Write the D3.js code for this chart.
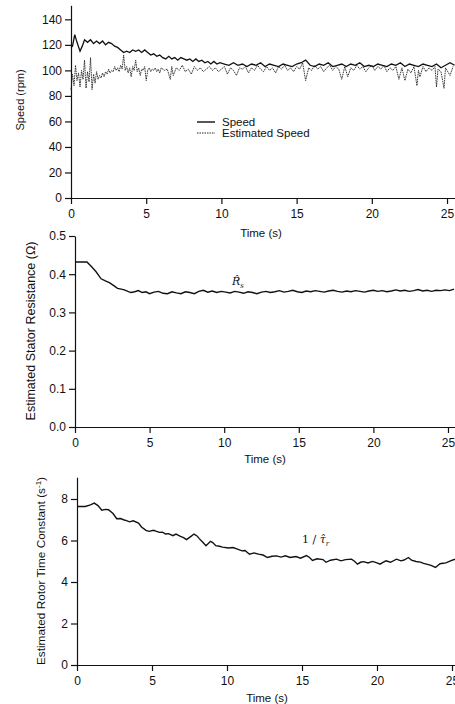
<!DOCTYPE html>
<html>
<head>
<meta charset="utf-8">
<script src="https://cdn.jsdelivr.net/npm/d3@7"></script>
<style>
  body { margin: 0; background: #fff; }
  svg { display: block; font-family: "Liberation Sans", Arial, Helvetica, sans-serif; }
  .tick text { font-size: 12px; fill: #111; }
  .tick line, .domain { stroke: #111; stroke-width: 1.2; }
</style>
</head>
<body>
<div id="chart"></div>
<script>
// ---- data: [time (s), value] ----
const speed = [[0,118],[0.1,119],[0.25,128],[0.4,122],[0.6,115],[0.75,119],[0.9,124],[1.1,122],[1.3,124],[1.5,121],
  [1.7,123],[1.9,121],[2.1,123],[2.3,120],[2.5,122],[2.7,121],[2.9,119],[3.1,118],[3.3,116],[3.5,114],
  [3.7,115],[3.9,114],[4.1,116],[4.3,115],[4.5,116],[4.7,114],[4.9,116],[5.1,114],[5.3,112],[5.5,113],
  [5.7,111],[5.9,112],[6.1,110],[6.3,109],[6.5,111],[6.7,109],[6.9,110],[7.1,108],[7.3,110],[7.5,109],
  [7.7,108],[7.9,109],[8.1,107],[8.3,109],[8.5,107],[8.7,108],[8.9,106],[9.1,107],[9.3,105],[9.5,107],
  [9.7,105],[9.9,106],[10.2,105],[10.5,104],[10.8,106],[11.1,104],[11.4,105],[11.7,103],[12.0,105],[12.3,104],
  [12.6,106],[12.9,103],[13.2,105],[13.5,104],[13.8,103],[14.1,105],[14.4,104],[14.7,103],[15.0,105],[15.3,106],
  [15.6,108],[15.9,104],[16.2,103],[16.5,105],[16.8,104],[17.1,106],[17.4,103],[17.7,104],[18.0,105],[18.3,103],
  [18.6,105],[18.9,104],[19.2,106],[19.5,103],[19.8,104],[20.1,103],[20.4,105],[20.7,104],[21.0,103],[21.3,105],
  [21.6,104],[21.9,106],[22.2,103],[22.5,105],[22.8,104],[23.1,103],[23.4,105],[23.7,104],[24.0,103],[24.3,105],
  [24.6,102],[24.9,104],[25.2,106],[25.5,104]];

const estSpeed = [[0,85],[0.1,97],[0.2,88],[0.3,104],[0.4,92],[0.5,98],[0.6,87],[0.7,100],[0.8,93],[0.9,108],
  [1.0,86],[1.1,99],[1.2,91],[1.3,110],[1.4,85],[1.5,97],[1.6,90],[1.7,99],[1.8,93],[1.9,96],
  [2.0,94],[2.1,98],[2.2,95],[2.3,99],[2.4,97],[2.5,101],[2.6,98],[2.7,100],[2.8,99],[2.9,103],
  [3.0,100],[3.1,102],[3.2,99],[3.3,104],[3.4,101],[3.5,112],[3.6,100],[3.7,103],[3.8,98],[3.9,102],
  [4.0,95],[4.1,103],[4.2,100],[4.3,108],[4.4,99],[4.5,102],[4.6,96],[4.7,101],[4.8,100],[4.9,103],
  [5.0,92],[5.1,100],[5.2,102],[5.3,99],[5.4,101],[5.5,100],[5.6,102],[5.7,99],[5.8,101],[5.9,98],
  [6.0,102],[6.2,100],[6.4,101],[6.6,93],[6.7,103],[6.8,96],[7.0,102],[7.2,100],[7.4,104],[7.6,99],
  [7.8,101],[8.0,97],[8.2,103],[8.4,100],[8.6,102],[8.8,99],[9.0,101],[9.2,103],[9.4,100],[9.6,102],
  [9.8,99],[10.0,101],[10.2,103],[10.4,97],[10.6,102],[10.8,100],[11.0,96],[11.2,102],[11.4,101],[11.6,103],
  [11.8,98],[12.0,102],[12.2,100],[12.4,104],[12.6,101],[12.8,99],[13.0,103],[13.2,100],[13.4,102],[13.6,98],
  [13.8,103],[14.0,101],[14.2,104],[14.4,100],[14.6,102],[14.8,99],[15.0,103],[15.2,101],[15.4,106],[15.6,92],
  [15.8,102],[16.0,100],[16.2,104],[16.4,101],[16.6,103],[16.8,99],[17.0,102],[17.2,104],[17.4,100],[17.6,103],
  [17.8,101],[18.0,93],[18.2,103],[18.4,95],[18.6,102],[18.8,100],[19.0,104],[19.2,101],[19.4,103],[19.6,99],
  [19.8,102],[20.0,104],[20.2,100],[20.4,103],[20.6,101],[20.8,104],[21.0,99],[21.2,102],[21.4,100],[21.6,103],
  [21.8,93],[22.0,102],[22.2,92],[22.4,101],[22.6,98],[22.8,103],[23.0,88],[23.1,100],[23.2,95],[23.4,103],
  [23.6,99],[23.8,102],[24.0,100],[24.2,103],[24.3,87],[24.4,101],[24.6,99],[24.8,86],[24.9,102],[25.0,100],
  [25.2,96],[25.4,103]];

const statorRes = [[0,0.432],[0.8,0.432],[1.1,0.42],[1.4,0.407],[1.75,0.388],[2.0,0.383],[2.3,0.378],[2.6,0.37],
  [2.85,0.363],[3.1,0.361],[3.3,0.359],[3.55,0.355],[3.75,0.352],[4.0,0.354],[4.25,0.357],[4.5,0.352],[4.75,0.354],
  [5.0,0.349],[5.3,0.353],[5.6,0.355],[5.9,0.35],[6.2,0.349],[6.5,0.354],[6.8,0.351],[7.1,0.349],[7.4,0.354],
  [7.7,0.352],[8.0,0.349],[8.3,0.355],[8.6,0.358],[8.9,0.353],[9.2,0.356],[9.5,0.352],[9.8,0.355],[10.1,0.353],
  [10.4,0.351],[10.7,0.355],[11.0,0.353],[11.3,0.350],[11.6,0.354],[11.9,0.352],[12.2,0.349],[12.5,0.353],
  [12.8,0.355],[13.1,0.352],[13.4,0.354],[13.7,0.357],[14.0,0.353],[14.3,0.355],[14.6,0.358],[14.9,0.354],
  [15.2,0.352],[15.5,0.356],[15.8,0.354],[16.1,0.357],[16.4,0.355],[16.7,0.353],[17.0,0.356],[17.3,0.358],
  [17.6,0.355],[17.9,0.353],[18.2,0.356],[18.5,0.354],[18.8,0.357],[19.1,0.355],[19.4,0.353],[19.7,0.356],
  [20.0,0.358],[20.3,0.355],[20.6,0.357],[20.9,0.354],[21.2,0.356],[21.5,0.359],[21.8,0.356],[22.1,0.358],
  [22.4,0.355],[22.7,0.357],[23.0,0.360],[23.3,0.356],[23.6,0.358],[23.9,0.355],[24.2,0.358],[24.5,0.357],
  [24.8,0.359],[25.1,0.357],[25.4,0.361]];

const rotorInv = [[0,7.64],[0.55,7.64],[0.9,7.72],[1.15,7.8],[1.4,7.68],[1.65,7.46],[1.9,7.5],[2.1,7.48],[2.4,7.3],
  [2.65,7.05],[2.9,7.06],[3.1,7.0],[3.3,6.96],[3.5,6.9],[3.75,6.95],[4.1,6.84],[4.3,6.65],[4.6,6.49],[4.8,6.44],
  [5.1,6.49],[5.3,6.44],[5.5,6.39],[5.7,6.40],[5.9,6.31],[6.1,6.33],[6.4,6.23],[6.6,6.31],[6.9,6.2],[7.1,6.14],
  [7.3,6.04],[7.6,6.2],[7.8,6.31],[8.0,6.22],[8.15,6.09],[8.4,5.9],[8.6,5.75],[8.9,5.96],[9.05,5.9],[9.25,5.75],
  [9.5,5.72],[9.7,5.68],[10.1,5.64],[10.4,5.66],[10.7,5.58],[11.0,5.5],[11.2,5.52],[11.5,5.34],[11.8,5.40],
  [12.1,5.34],[12.4,5.30],[12.7,5.18],[13.0,5.24],[13.3,5.26],[13.6,5.20],[13.9,5.26],[14.2,5.18],[14.6,5.23],
  [14.9,5.15],[15.3,5.27],[15.5,5.18],[15.7,5.04],[16.0,5.12],[16.4,5.08],[16.6,4.95],[16.9,5.05],[17.3,5.10],
  [17.6,5.02],[17.9,5.08],[18.3,5.10],[18.5,5.0],[18.7,4.86],[18.9,4.95],[19.1,4.98],[19.4,4.92],[19.7,4.99],
  [20.0,4.92],[20.2,4.86],[20.4,4.95],[20.6,5.02],[20.9,4.95],[21.3,5.10],[21.6,5.02],[21.8,5.06],[22.1,5.18],
  [22.3,5.05],[22.6,4.99],[22.9,4.96],[23.1,4.90],[23.3,4.86],[23.6,4.80],[23.9,4.70],[24.2,4.88],[24.4,4.90],
  [24.6,4.92],[24.9,5.02],[25.2,5.10]];

// tick labels
const timeTicks = [0, 5, 10, 15, 20, 25];
const speedTicks = [0, 20, 40, 60, 80, 100, 120, 140];
const resTicks = [0, 0.1, 0.2, 0.3, 0.4, 0.5];
const rotorTicks = [0, 2, 4, 6, 8];
const legendLabels = ["Speed", "Estimated Speed"];

const svg = d3.select("#chart").append("svg")
  .attr("width", 455).attr("height", 704);

// one panel = axes + its y title + "Time (s)" label
function panel(p) {
  const x = d3.scaleLinear().domain(p.xDomain).range([p.left, 455]);
  const y = d3.scaleLinear().domain(p.yDomain).range([p.bottom, p.top]);

  svg.append("g")
    .attr("transform", `translate(0,${p.bottom})`)
    .call(d3.axisBottom(x).tickValues(timeTicks).tickSize(6).tickSizeOuter(0).tickPadding(5));

  svg.append("g")
    .attr("transform", `translate(${p.left},0)`)
    .call(d3.axisLeft(y).tickValues(p.yTicks).tickSize(6).tickSizeOuter(0).tickPadding(3)
      .tickFormat(p.fmt || d3.format("d")));

  svg.append("text")
    .attr("transform", "rotate(-90)")
    .attr("x", -p.titleY).attr("y", p.titleX)
    .attr("text-anchor", "middle")
    .style("font-size", p.titleSize + "px")
    .attr("fill", "#111")
    .html(p.title);

  svg.append("text")
    .attr("x", p.timeX).attr("y", p.timeY)
    .attr("text-anchor", "middle")
    .style("font-size", "11.5px")
    .attr("fill", "#111")
    .text("Time (s)");

  return {x, y};
}

// ---- top: speed ----
const pSpeed = panel({left:71, top:5.3, bottom:198, xDomain:[0,25.53], yDomain:[0,151], yTicks:speedTicks,
  title:"Speed (rpm)", titleX:24, titleY:100, titleSize:11, timeX:261, timeY:237});

const lineTop = d3.line().x(d => pSpeed.x(d[0])).y(d => pSpeed.y(d[1]));

svg.append("path").datum(estSpeed)
  .attr("fill", "none").attr("stroke", "#222")
  .attr("stroke-width", 0.9).attr("stroke-dasharray", "1.6,0.8")
  .attr("d", lineTop);

svg.append("path").datum(speed)
  .attr("fill", "none").attr("stroke", "#111")
  .attr("stroke-width", 1.3)
  .attr("d", lineTop);

// legend
const legend = svg.append("g").attr("transform", "translate(197,122)");
legendLabels.forEach((lab, i) => {
  legend.append("line")
    .attr("x1", 0).attr("x2", 18)
    .attr("y1", i * 11).attr("y2", i * 11)
    .attr("stroke", "#111")
    .attr("stroke-width", i === 0 ? 1.4 : 0.9)
    .attr("stroke-dasharray", i === 0 ? null : "1.5,1");
  legend.append("text")
    .attr("x", 25).attr("y", i * 11 + 3.5)
    .style("font-size", "11.5px")
    .attr("fill", "#111")
    .text(lab);
});

// ---- middle: estimated stator resistance ----
const pRes = panel({left:75, top:236, bottom:427, xDomain:[0,25.47], yDomain:[0,0.5], yTicks:resTicks,
  fmt:d3.format(".1f"), title:"Estimated Stator Resistance (Ω)", titleX:35, titleY:331, titleSize:12.5,
  timeX:265, timeY:463});

svg.append("path").datum(statorRes)
  .attr("fill", "none").attr("stroke", "#111").attr("stroke-width", 1.4)
  .attr("d", d3.line().x(d => pRes.x(d[0])).y(d => pRes.y(d[1])));

const rs = svg.append("text").attr("x", 232).attr("y", 285)
  .style("font-family", "'DejaVu Serif', 'Liberation Serif', serif")
  .style("font-style", "italic").style("font-size", "11px").attr("fill", "#111");
rs.append("tspan").text("R\u0302");
rs.append("tspan").attr("dy", 3).style("font-size", "7px").text("s");

// ---- bottom: estimated inverse rotor time constant ----
const pRotor = panel({left:77, top:477.2, bottom:665, xDomain:[0,25.2], yDomain:[0,9.05], yTicks:rotorTicks,
  title:"Estimated Rotor Time Constant (s<tspan dy='-4' font-size='8'>-1</tspan><tspan dy='4'>)</tspan>",
  titleX:45, titleY:571, titleSize:11.8, timeX:267, timeY:702});

svg.append("path").datum(rotorInv)
  .attr("fill", "none").attr("stroke", "#111").attr("stroke-width", 1.4)
  .attr("d", d3.line().x(d => pRotor.x(d[0])).y(d => pRotor.y(d[1])));

const tr = svg.append("text").attr("x", 302).attr("y", 543)
  .style("font-family", "'DejaVu Serif', 'Liberation Serif', serif")
  .style("font-size", "11px").attr("fill", "#111");
tr.append("tspan").text("1 / ");
tr.append("tspan").style("font-style", "italic").text("\u03C4\u0302");
tr.append("tspan").attr("dy", 3).style("font-size", "7px").style("font-style", "italic").text("r");
</script>
</body>
</html>
